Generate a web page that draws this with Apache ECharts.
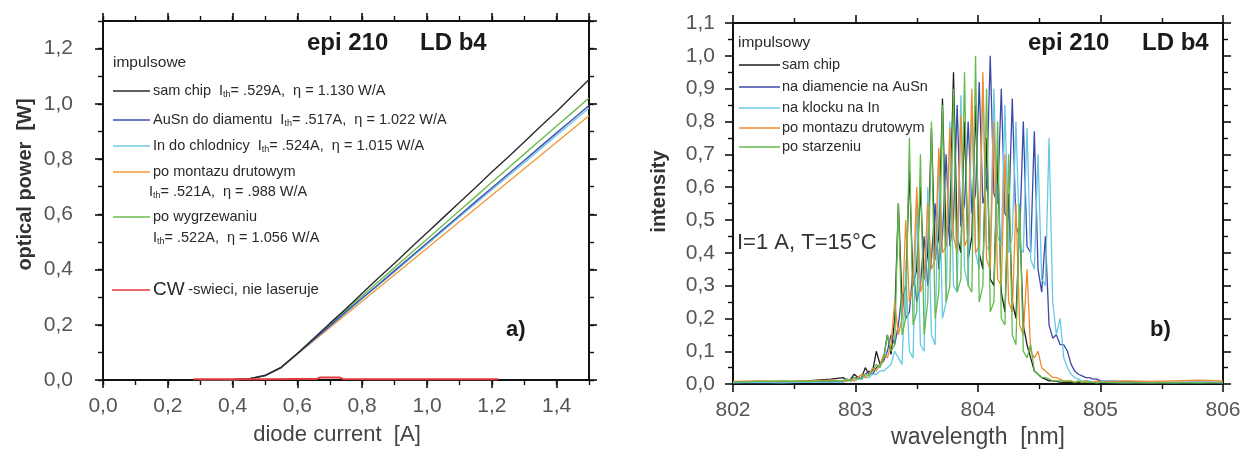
<!DOCTYPE html>
<html><head><meta charset="utf-8">
<script src="https://cdn.jsdelivr.net/npm/echarts/dist/echarts.min.js"></script>
<style>html,body{margin:0;padding:0;background:#fff}#c{width:1251px;height:454px}</style>
</head><body><div id="c"></div><script>
// ---------- Panel a) : L-I curves ----------
const livCurrent = [0.30,0.35,0.40,0.45,0.50,0.55,0.60,0.65,0.70,0.75,0.80,0.85,0.90,0.95,1.00,1.05,1.10,1.15,1.20,1.25,1.30,1.35,1.40,1.45,1.50];
const livSamChip = [0.000,0.000,0.001,0.004,0.016,0.046,0.096,0.150,0.205,0.258,0.314,0.369,0.423,0.479,0.533,0.588,0.643,0.697,0.753,0.807,0.862,0.918,0.972,1.030,1.088];
const livAuSn    = [0.000,0.000,0.001,0.004,0.017,0.046,0.096,0.146,0.196,0.247,0.297,0.346,0.396,0.446,0.496,0.546,0.596,0.646,0.695,0.745,0.795,0.845,0.895,0.944,0.994];
const livIn      = [0.000,0.000,0.001,0.004,0.016,0.045,0.095,0.145,0.195,0.244,0.294,0.343,0.392,0.442,0.491,0.541,0.590,0.639,0.689,0.738,0.787,0.837,0.886,0.935,0.985];
const livWire    = [0.000,0.000,0.001,0.004,0.015,0.044,0.093,0.141,0.189,0.237,0.285,0.333,0.381,0.429,0.477,0.525,0.573,0.621,0.669,0.717,0.765,0.813,0.861,0.909,0.957];
const livAnneal  = [0.000,0.000,0.001,0.004,0.016,0.045,0.096,0.149,0.201,0.253,0.305,0.356,0.407,0.459,0.510,0.561,0.613,0.664,0.716,0.767,0.818,0.869,0.920,0.970,1.021];
const cwCurrent = [0.28,0.40,0.50,0.60,0.66,0.67,0.70,0.73,0.74,0.85,1.00,1.10,1.22];
const cwPower   = [0.003,0.003,0.003,0.004,0.004,0.009,0.009,0.009,0.004,0.003,0.003,0.003,0.003];
const livNames  = ['sam chip','AuSn do diamentu','In do chlodnicy','po montazu drutowym','po wygrzewaniu','CW -swieci, nie laseruje'];
const livColors = ['#2a2a2a','#4050b0','#70c8e4','#f39a3c','#6cbd4c','#e0393a'];

// ---------- Panel b) : spectra ----------
const wavelength = [802.00,802.20,802.40,802.60,802.80,
802.90,802.93,802.96,802.99,803.02,803.05,803.08,803.11,803.14,803.17,
803.20,803.23,803.26,803.29,803.32,803.35,803.38,803.41,803.44,803.47,
803.50,803.53,803.56,803.59,803.62,803.65,803.68,803.71,803.74,803.77,
803.80,803.83,803.86,803.89,803.92,803.95,803.98,804.01,804.04,804.07,
804.10,804.13,804.16,804.19,804.22,804.25,804.28,804.31,804.34,804.37,
804.40,804.43,804.46,804.49,804.52,804.55,804.58,804.61,804.64,804.67,
804.70,804.73,804.76,804.79,804.82,804.85,804.88,804.91,804.94,804.97,
805.00,805.20,805.40,805.60,805.80,806.00];
const specSamChip = [0.005,0.008,0.006,0.010,0.015,
0.02,0.01,0.015,0.03,0.02,0.02,0.05,0.03,0.04,0.10,
0.06,0.08,0.15,0.09,0.20,0.55,0.25,0.30,0.65,0.30,
0.35,0.60,0.32,0.40,0.78,0.38,0.45,0.87,0.42,0.50,
0.95,0.45,0.40,0.80,0.38,0.45,0.85,0.40,0.35,0.75,
0.32,0.30,0.70,0.28,0.22,0.58,0.25,0.20,0.50,0.18,
0.12,0.08,0.04,0.03,0.02,0.015,0.01,0.01,0.008,0.006,
0.005,0.006,0.005,0.004,0.005,0.004,0.005,0.004,0.003,0.004,
0.004,0.004,0.003,0.004,0.003,0.004];
const specDiamond = [0.005,0.006,0.008,0.006,0.008,
0.01,0.015,0.01,0.02,0.02,0.015,0.03,0.04,0.03,0.05,
0.06,0.07,0.10,0.15,0.12,0.18,0.28,0.20,0.22,0.35,
0.25,0.30,0.45,0.30,0.38,0.55,0.35,0.45,0.70,0.42,
0.50,0.85,0.48,0.55,0.80,0.52,0.58,0.92,0.55,0.60,
1.00,0.58,0.55,0.90,0.52,0.50,0.87,0.48,0.45,0.80,
0.42,0.40,0.77,0.35,0.28,0.45,0.18,0.14,0.15,0.12,
0.12,0.10,0.06,0.04,0.03,0.025,0.02,0.02,0.015,0.015,
0.01,0.008,0.006,0.005,0.006,0.005];
const specBlock = [0.004,0.005,0.004,0.006,0.005,
0.005,0.01,0.01,0.01,0.015,0.02,0.02,0.02,0.03,0.03,
0.04,0.04,0.05,0.06,0.10,0.08,0.06,0.35,0.10,0.08,
0.55,0.12,0.10,0.60,0.15,0.12,0.70,0.20,0.25,0.80,
0.30,0.28,0.88,0.35,0.30,0.85,0.40,0.35,0.92,0.42,
0.40,0.90,0.45,0.42,0.85,0.40,0.45,0.80,0.42,0.40,
0.78,0.38,0.35,0.70,0.32,0.30,0.75,0.25,0.15,0.20,
0.08,0.05,0.03,0.02,0.015,0.01,0.01,0.01,0.005,0.005,
0.005,0.004,0.005,0.004,0.005,0.004];
const specWire = [0.008,0.010,0.008,0.010,0.012,
0.01,0.01,0.015,0.01,0.02,0.03,0.02,0.03,0.05,0.04,
0.06,0.09,0.08,0.12,0.25,0.15,0.20,0.50,0.25,0.30,
0.60,0.28,0.32,0.55,0.35,0.38,0.72,0.40,0.42,0.78,
0.45,0.40,0.82,0.42,0.45,0.90,0.40,0.42,0.95,0.38,
0.35,0.80,0.32,0.30,0.70,0.25,0.22,0.55,0.18,0.15,
0.35,0.10,0.08,0.10,0.05,0.04,0.03,0.02,0.02,0.015,
0.01,0.01,0.01,0.005,0.01,0.005,0.01,0.005,0.005,0.01,
0.005,0.01,0.008,0.01,0.012,0.01];
const specAged = [0.006,0.008,0.010,0.008,0.010,
0.01,0.015,0.01,0.02,0.015,0.02,0.03,0.025,0.04,0.06,
0.05,0.08,0.15,0.10,0.12,0.55,0.15,0.20,0.75,0.18,
0.22,0.70,0.15,0.25,0.80,0.20,0.28,0.85,0.25,0.30,
0.90,0.28,0.32,0.95,0.30,0.28,1.00,0.25,0.30,0.90,
0.22,0.25,0.80,0.20,0.18,0.70,0.15,0.12,0.55,0.10,
0.08,0.12,0.04,0.03,0.02,0.02,0.015,0.01,0.01,0.01,
0.008,0.01,0.008,0.006,0.008,0.006,0.005,0.006,0.005,0.004,
0.005,0.005,0.004,0.005,0.004,0.005];
const specNames  = ['sam chip','na diamencie na AuSn','na klocku na In','po montazu drutowym','po starzeniu'];
const specColors = ['#1e1e1e','#3b4aa8','#68c8e6','#f08a30','#62bb4c'];

// ---------- tick labels ----------
const ticksA_x = [0,0.2,0.4,0.6,0.8,1.0,1.2,1.4];
const ticksA_y = [0,0.2,0.4,0.6,0.8,1.0,1.2];

const FONT = '"Liberation Sans", Arial, sans-serif';
const comma = v => v.toFixed(1).replace('.', ',');
const pairs = (xs, ys) => xs.map((x, i) => [x, ys[i]]);

const lineStyle = {color:'#111', width:2};
function ax(o){
  return Object.assign({
    type:'value', splitLine:{show:false},
    axisLine:{show:true, onZero:false, lineStyle},
    axisTick:{show:true, length:8, lineStyle:{color:'#111', width:1.6}},
    axisLabel:{show:false}
  }, o);
}
function minorAx(o){
  return Object.assign({
    type:'value', splitLine:{show:false},
    axisLine:{show:false, onZero:false},
    axisTick:{show:true, length:5, lineStyle:{color:'#111', width:1.4}},
    axisLabel:{show:false}
  }, o);
}
const tickLabel = {show:true, fontSize:21, color:'#555', fontFamily:FONT};

const xAxes = [
  ax({gridIndex:0, position:'bottom', min:0, max:1.5, interval:0.2,
      axisLabel:Object.assign({}, tickLabel, {margin:16, showMaxLabel:false,
        formatter:v => ticksA_x.some(t => Math.abs(t - v) < 1e-6) ? comma(v) : ''}),
      name:'diode current  [A]', nameLocation:'middle', nameGap:44,
      nameTextStyle:{fontSize:22, color:'#444', fontFamily:FONT, padding:[0,18,0,0]}}),
  minorAx({gridIndex:0, position:'bottom', min:0, max:1.5, interval:0.1}),
  ax({gridIndex:0, position:'top', min:0, max:1.5, interval:0.2}),
  minorAx({gridIndex:0, position:'top', min:0, max:1.5, interval:0.1}),
  ax({gridIndex:1, position:'bottom', min:802, max:806, interval:1,
      minorTick:{show:true, splitNumber:2, length:5, lineStyle:{color:'#111', width:1.4}},
      axisLabel:Object.assign({}, tickLabel, {margin:16, formatter:v => String(Math.round(v))}),
      name:'wavelength  [nm]', nameLocation:'middle', nameGap:40,
      nameTextStyle:{fontSize:23, color:'#444', fontFamily:FONT}}),
  ax({gridIndex:1, position:'top', min:802, max:806, interval:1,
      minorTick:{show:true, splitNumber:2, length:5, lineStyle:{color:'#111', width:1.4}}})
];
const yAxes = [
  ax({gridIndex:0, position:'left', min:0, max:1.3, interval:0.2,
      axisLabel:Object.assign({}, tickLabel, {margin:30, showMaxLabel:false,
        formatter:v => ticksA_y.some(t => Math.abs(t - v) < 1e-6) ? comma(v) : ''}),
      name:'optical power  [W]', nameLocation:'middle', nameGap:68,
      nameTextStyle:{fontSize:20, fontWeight:'bold', color:'#333', fontFamily:FONT, padding:[0,0,0,32]}}),
  minorAx({gridIndex:0, position:'left', min:0, max:1.3, interval:0.1}),
  ax({gridIndex:0, position:'right', min:0, max:1.3, interval:0.2}),
  minorAx({gridIndex:0, position:'right', min:0, max:1.3, interval:0.1}),
  ax({gridIndex:1, position:'left', min:0, max:1.1, interval:0.1,
      minorTick:{show:true, splitNumber:2, length:5, lineStyle:{color:'#111', width:1.4}},
      axisLabel:Object.assign({}, tickLabel, {margin:18, formatter:v => comma(v)}),
      name:'intensity', nameLocation:'middle', nameGap:64,
      nameTextStyle:{fontSize:20, fontWeight:'bold', color:'#333', fontFamily:FONT, padding:[0,0,0,24]}}),
  ax({gridIndex:1, position:'right', min:0, max:1.1, interval:0.1,
      minorTick:{show:true, splitNumber:2, length:5, lineStyle:{color:'#111', width:1.4}}})
];

const livSets = [livSamChip, livAuSn, livIn, livWire, livAnneal];
const series = [];
livSets.forEach((d, i) => series.push({
  type:'line', xAxisIndex:0, yAxisIndex:0, name:livNames[i], data:pairs(livCurrent, d),
  showSymbol:false, smooth:false, lineStyle:{color:livColors[i], width:1.4}, z:3 + (4 - i)
}));
series.push({type:'line', xAxisIndex:0, yAxisIndex:0, name:livNames[5], data:pairs(cwCurrent, cwPower),
  showSymbol:false, lineStyle:{color:livColors[5], width:2}, z:9});
const specSets = [specSamChip, specDiamond, specBlock, specWire, specAged];
specSets.forEach((d, i) => series.push({
  type:'line', xAxisIndex:4, yAxisIndex:4, name:specNames[i], data:pairs(wavelength, d),
  showSymbol:false, lineStyle:{color:specColors[i], width:1.3}, z:3 + i
}));

// ---------- annotations / legends ----------
const g = [];
const LEG = 14.5;
const txt = (x, y, text, size, extra) => g.push({type:'text', x, y, z:20,
  style:Object.assign({text, fill:'#2a2a2a', font:`${size}px ${FONT}`, verticalAlign:'middle'}, extra || {})});
const bold = (x, y, text, size) => txt(x, y, text, size, {font:`bold ${size}px ${FONT}`, fill:'#1a1a1a'});
const seg = (x1, x2, y, color) => g.push({type:'line', z:20, shape:{x1, y1:y, x2, y2:y}, style:{stroke:color, lineWidth:1.6}});
const rich = {n:{fontSize:LEG, fontFamily:FONT, fill:'#2a2a2a', lineHeight:17},
              s:{fontSize:9, fontFamily:FONT, fill:'#2a2a2a', lineHeight:9, verticalAlign:'bottom'}};
const richTxt = (x, y, text) => g.push({type:'text', x, y, z:20, style:{text, rich, verticalAlign:'middle'}});

// panel a legend
txt(113, 63, 'impulsowe', 15.5);
const livThr = ['.529A','.517A','.524A','.521A','.522A'];
const livEta = ['1.130','1.022','1.015','.988','1.056'];
seg(113, 150, 91, livColors[0]);
richTxt(153, 91, `{n|${livNames[0]}  I}{s|th}{n|= ${livThr[0]},  η = ${livEta[0]} W/A}`);
seg(113, 150, 120, livColors[1]);
richTxt(153, 120, `{n|${livNames[1]}  I}{s|th}{n|= ${livThr[1]},  η = ${livEta[1]} W/A}`);
seg(113, 150, 146, livColors[2]);
richTxt(153, 146, `{n|${livNames[2]}  I}{s|th}{n|= ${livThr[2]},  η = ${livEta[2]} W/A}`);
seg(113, 150, 172, livColors[3]);
txt(153, 172, livNames[3], LEG);
richTxt(149, 192, `{n|I}{s|th}{n|= ${livThr[3]},  η = ${livEta[3]} W/A}`);
seg(113, 150, 217, livColors[4]);
txt(153, 217, livNames[4], LEG);
richTxt(153, 238, `{n|I}{s|th}{n|= ${livThr[4]},  η = ${livEta[4]} W/A}`);
seg(112, 150, 290, livColors[5]);
g.push({type:'text', x:153, y:290, z:20, style:{text:'{a|CW} {b|-swieci, nie laseruje}', verticalAlign:'middle',
  rich:{a:{fontSize:19, fontFamily:FONT, fill:'#2a2a2a'}, b:{fontSize:15, fontFamily:FONT, fill:'#2a2a2a'}}}});
bold(307, 43, 'epi 210', 24);
bold(420, 43, 'LD b4', 24);
bold(506, 330, 'a)', 22);

// panel b legend
txt(738, 43, 'impulsowy', 15.5);
const specRows = [65, 87, 108, 128, 147];
specNames.forEach((n, i) => { seg(739, 780, specRows[i], specColors[i]); txt(782, specRows[i], n, LEG); });
bold(1028, 43, 'epi 210', 24);
bold(1142, 43, 'LD b4', 24);
txt(737, 243, 'I=1 A, T=15°C', 22, {fill:'#333'});
bold(1150, 330, 'b)', 22);

const chart = echarts.init(document.getElementById('c'), null, {renderer:'canvas'});
chart.setOption({
  animation:false,
  backgroundColor:'#ffffff',
  textStyle:{fontFamily:FONT},
  grid:[
    {left:103, right:662, top:21, bottom:74, containLabel:false},
    {left:733, right:28, top:23, bottom:69, containLabel:false}
  ],
  xAxis:xAxes, yAxis:yAxes, series, graphic:g
});
</script></body></html>
